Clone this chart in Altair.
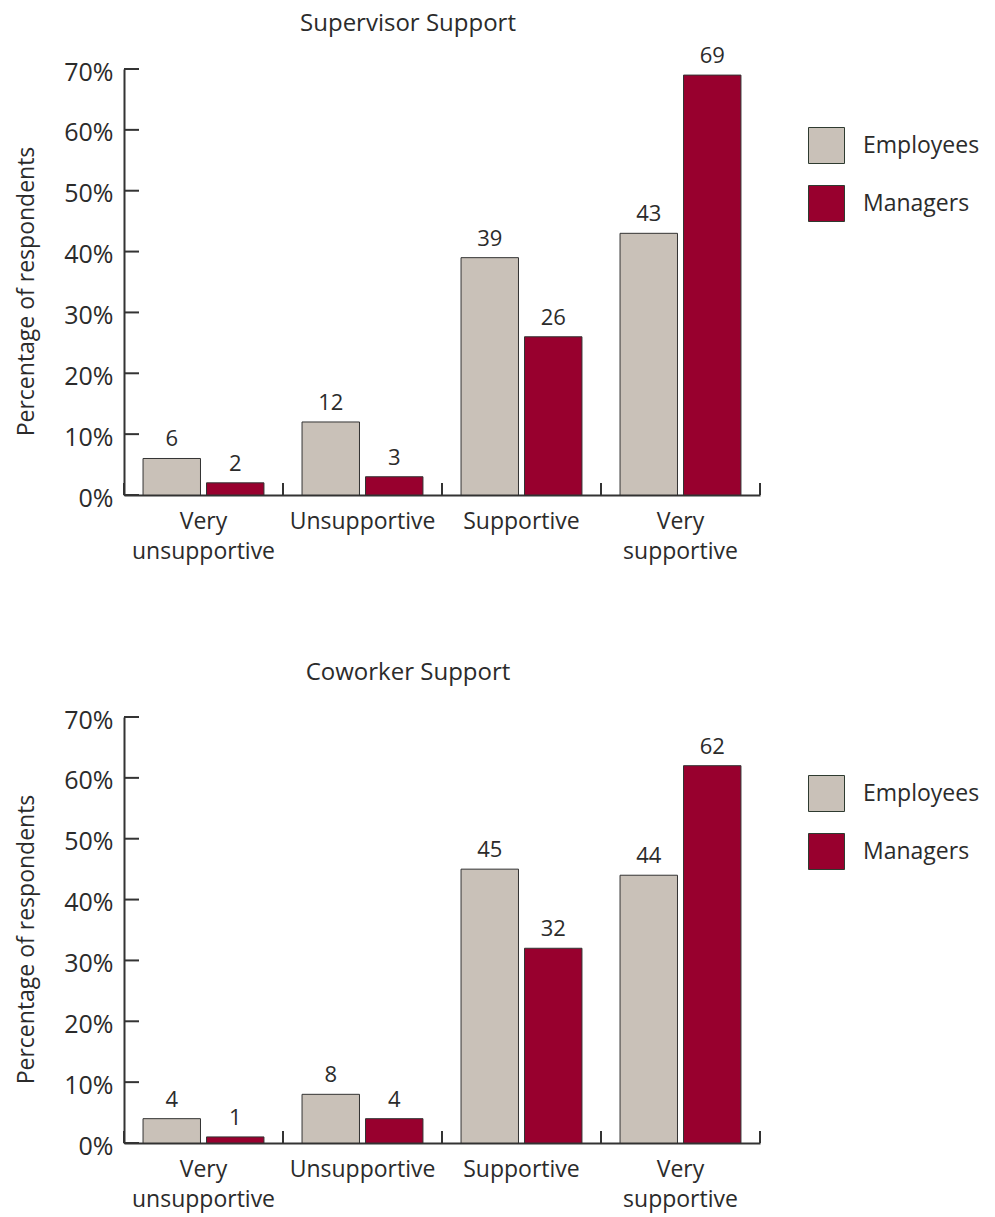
import altair as alt
import pandas as pd

categories = ["Very unsupportive", "Unsupportive", "Supportive", "Very supportive"]
groups = ["Employees", "Managers"]
colors = ["#c9c1b8", "#98002e"]

sup_employees = [6, 12, 39, 43]
sup_managers = [2, 3, 26, 69]
cow_employees = [4, 8, 45, 44]
cow_managers = [1, 4, 32, 62]

y_ticks = [0, 10, 20, 30, 40, 50, 60, 70]

FONT = "Open Sans"
TXT = "#2b2b2b"
LINE = "#333333"
W, H = 636, 426

x_axis = alt.Axis(title=None, ticks=False, labelAngle=0, labelFontSize=23,
                  labelPadding=15, labelBaseline="top", labelLineHeight=30,
                  labelColor=TXT, labelFont=FONT, domainColor=LINE, domainWidth=2,
                  labelExpr="indexof(datum.value, 'Very ') == 0 ? ['Very', substring(datum.value, 5)] : datum.value")
y_axis = alt.Axis(values=y_ticks, ticks=False, labelExpr="datum.value + '%'",
                  labelFontSize=25, labelPadding=11, labelOffset=3, labelColor=TXT,
                  labelFont=FONT, domainColor=LINE, domainWidth=2,
                  title="Percentage of respondents", titleFontSize=23,
                  titleFontWeight="normal", titleColor=TXT, titleFont=FONT,
                  titleX=-98, titleY=H / 2 + 9, titleAngle=270, titleAlign="center",
                  titleBaseline="middle")


def panel(title, emp, mgr, title_offset):
    rows = []
    for c, e, m in zip(categories, emp, mgr):
        rows.append({"category": c, "group": "Employees", "value": e})
        rows.append({"category": c, "group": "Managers", "value": m})
    df = pd.DataFrame(rows)

    xsc = alt.Scale(domain=categories, paddingInner=0, paddingOuter=0)
    xoff = alt.XOffset("group:N", sort=groups,
                       scale=alt.Scale(domain=groups, paddingInner=0.095, paddingOuter=0.3))
    ysc = alt.Scale(domain=[0, 70], nice=False)

    bars = alt.Chart(df).mark_bar(stroke=LINE, strokeWidth=1).encode(
        x=alt.X("category:N", sort=categories, scale=xsc, axis=x_axis),
        xOffset=xoff,
        y=alt.Y("value:Q", scale=ysc, axis=y_axis),
        color=alt.Color("group:N", sort=groups,
                        scale=alt.Scale(domain=groups, range=colors),
                        legend=alt.Legend(title=None, orient="none", legendX=684, legendY=58,
                                          symbolType="square", symbolSize=1296,
                                          symbolStrokeColor="#2e3b30", symbolStrokeWidth=1,
                                          symbolOpacity=1, labelFontSize=23, labelOffset=18,
                                          rowPadding=17, labelFont=FONT, labelColor=TXT,
                                          padding=0)),
    )

    labels = alt.Chart(df).mark_text(baseline="alphabetic", dy=-12, fontSize=22,
                                     font=FONT, color=TXT).encode(
        x=alt.X("category:N", sort=categories, scale=xsc, axis=x_axis),
        xOffset=xoff,
        y=alt.Y("value:Q", scale=ysc, axis=y_axis),
        text=alt.Text("value:Q"),
    )

    ytick = alt.Chart(pd.DataFrame({"t": y_ticks})).mark_rule(
        color=LINE, strokeWidth=2).encode(
        y=alt.Y("t:Q", scale=ysc, axis=y_axis),
        x=alt.value(0), x2=alt.value(15),
    )

    xtick_start = alt.Chart(pd.DataFrame({"category": categories})).mark_rule(
        color=LINE, strokeWidth=2).encode(
        x=alt.X("category:N", sort=categories, scale=xsc, bandPosition=0, axis=x_axis),
        y=alt.value(H), y2=alt.value(H - 12),
    )
    xtick_end = alt.Chart(pd.DataFrame({"category": categories[-1:]})).mark_rule(
        color=LINE, strokeWidth=2).encode(
        x=alt.X("category:N", sort=categories, scale=xsc, bandPosition=1, axis=x_axis),
        y=alt.value(H), y2=alt.value(H - 12),
    )

    return alt.layer(bars, labels, ytick, xtick_start, xtick_end).properties(
        width=W, height=H,
        title=alt.TitleParams(title, fontSize=24, fontWeight="normal", color=TXT,
                              font=FONT, anchor="middle", dx=-34, offset=title_offset),
    )


top = panel("Supervisor Support", sup_employees, sup_managers, 9)
bottom = panel("Coworker Support", cow_employees, cow_managers, 23)

chart = alt.vconcat(top, bottom, spacing=96).resolve_legend(color="independent").properties(
    padding={"left": 14, "top": 11, "right": 5, "bottom": 5}
).configure_view(stroke="transparent").configure_axis(grid=False)

chart.save("out.html", embed_options={"renderer": "svg", "actions": False})
